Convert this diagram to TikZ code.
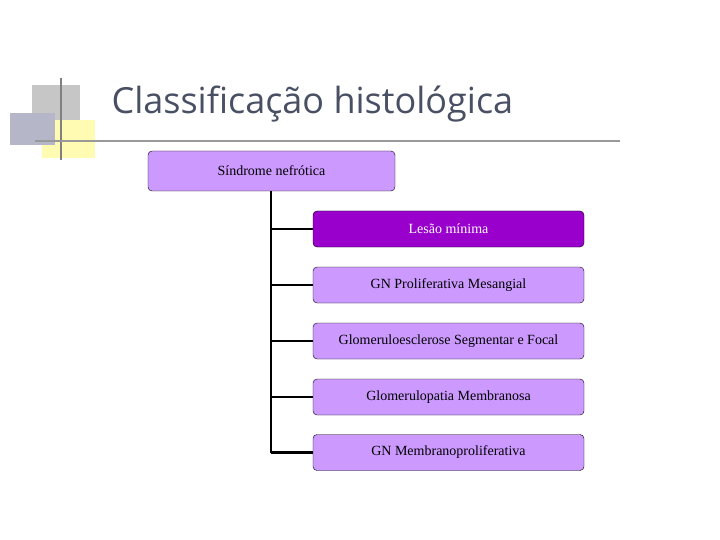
\documentclass[tikz,border=0pt]{standalone}
\usepackage{fontspec}
\setmainfont{Liberation Serif}
\newfontfamily\titlefont{Open Sans}
\definecolor{lilac}{HTML}{CC99FF}
\definecolor{purp}{HTML}{9900CC}
\definecolor{titlec}{HTML}{4A5064}
\begin{document}
\begin{tikzpicture}[x=1pt,y=-1pt,
  box/.style={draw=black,rounded corners=4pt,fill=lilac,minimum width=271pt,minimum height=36pt,font=\fontsize{14}{16}\selectfont,inner sep=1pt},
  conn/.style={line width=2.5pt}]
\useasboundingbox (0,0) rectangle (720,540);
\fill[gray!45] (32,85) rectangle (80,125);
\fill[yellow!30!white] (42,120) rectangle (95,158);
\fill[blue!15!gray!50] (10,113) rectangle (55,145);
\draw[gray,line width=1.5pt] (61,78) -- (61,160);
\draw[gray!80,line width=1.5pt] (35,141) -- (620,141);
\node[anchor=west,text=titlec,font=\titlefont\fontsize{36}{40}\selectfont] (title) at (108,104) {Classificação histológica};
\node[box,minimum width=247pt,minimum height=40pt] (root) at (271.5,171) {Síndrome nefrótica};
\node[box,fill=purp,text=white] (c1) at (448.5,229) {Lesão mínima};
\node[box] (c2) at (448.5,285) {GN Proliferativa Mesangial};
\node[box] (c3) at (448.5,341) {Glomeruloesclerose Segmentar e Focal};
\node[box] (c4) at (448.5,397) {Glomerulopatia Membranosa};
\node[box] (c5) at (448.5,452.5) {GN Membranoproliferativa};
\coordinate (t) at (271,191);
\draw[conn] (t) -- (271,452.5);
\foreach \c in {c1,c2,c3,c4,c5}{\draw[conn] (\c.west -| t) -- (\c.west);}
\end{tikzpicture}
\end{document}
